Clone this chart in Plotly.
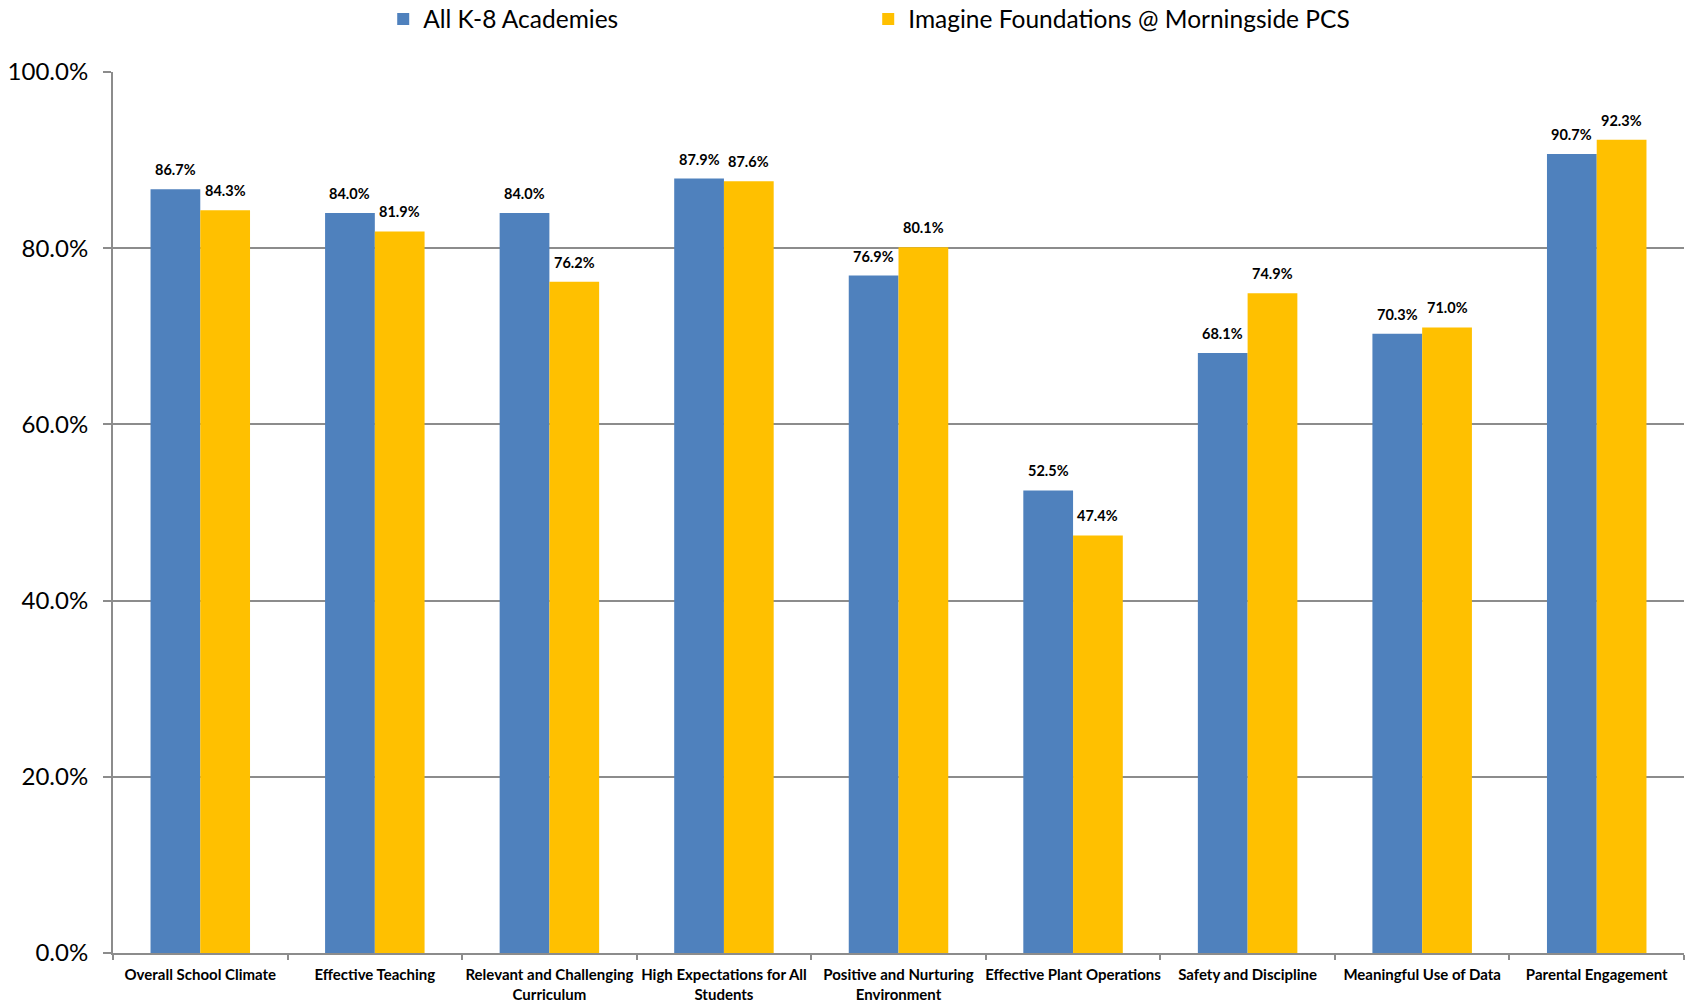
import plotly.graph_objects as go

categories = [
    "Overall School Climate",
    "Effective Teaching",
    "Relevant and Challenging<br>Curriculum",
    "High Expectations for All<br>Students",
    "Positive and Nurturing<br>Environment",
    "Effective Plant Operations",
    "Safety and Discipline",
    "Meaningful Use of Data",
    "Parental Engagement",
]
series_names = ["All K-8 Academies", "Imagine Foundations @ Morningside PCS"]
all_k8 = [0.867, 0.840, 0.840, 0.879, 0.769, 0.525, 0.681, 0.703, 0.907]
morningside = [0.843, 0.819, 0.762, 0.876, 0.801, 0.474, 0.749, 0.710, 0.923]
y_ticks = [0.0, 0.2, 0.4, 0.6, 0.8, 1.0]

colors = ["#4F81BD", "#FFC000"]
FONT = "Lato"

W, H = 1690, 1005
ML, MR, MT, MB = 113, 6, 72, 52
BARGAP = 0.43

fig = go.Figure()
for name, vals, col in zip(series_names, [all_k8, morningside], colors):
    fig.add_trace(go.Bar(x=categories, y=vals, name=name, marker=dict(color=col, line=dict(width=0))))

# data labels placed above each bar
plot_w = W - ML - MR
cat_w = plot_w / len(categories)
bar_w = cat_w * (1 - BARGAP) / 2
for si, vals in enumerate([all_k8, morningside]):
    shift = (si - 0.5) * bar_w
    for c, v in zip(categories, vals):
        fig.add_annotation(
            x=c, y=v, xref="x", yref="y", text=f"<b>{v*100:.1f}%</b>",
            showarrow=False, xshift=shift, yshift=9, yanchor="bottom",
            font=dict(family=FONT, size=14.5, color="#000000"),
        )

plot_h = H - MT - MB
fig.update_layout(
    width=W, height=H,
    margin=dict(l=ML, r=MR, t=MT, b=MB, pad=0, autoexpand=False),
    paper_bgcolor="white", plot_bgcolor="white",
    barmode="group", bargap=BARGAP, bargroupgap=0,
    font=dict(family=FONT, color="#000000"),
    legend=dict(
        orientation="h", x=0.172, xanchor="left",
        y=1 + (MT - 19) / plot_h, yanchor="middle",
        font=dict(family=FONT, size=24.5, color="#000000"),
        entrywidth=440, entrywidthmode="pixels", traceorder="normal",
    ),
    showlegend=True,
)
fig.update_yaxes(
    range=[0, 1], tickvals=y_ticks, tickformat=".1%",
    showgrid=True, gridcolor="#8C8C8C", gridwidth=1.5,
    showline=True, linecolor="#8C8C8C", linewidth=2,
    ticks="outside", ticklen=8, tickcolor="#8C8C8C", tickwidth=1.5,
    tickfont=dict(family=FONT, size=24, color="#000000"),
    ticklabelstandoff=10, zeroline=False,
)
fig.update_xaxes(
    showline=True, linecolor="#8C8C8C", linewidth=2,
    ticks="outside", tickson="boundaries", ticklen=5, tickcolor="#8C8C8C", tickwidth=1.5,
    tickfont=dict(family=FONT, size=15, color="#000000"),
    tickprefix="<b>", ticksuffix="</b>", tickangle=0,
    ticklabelstandoff=7,
)

fig.write_html(
    "out.html",
    config={"displayModeBar": False},
    post_script="document.body.style.margin='0px';",
)
